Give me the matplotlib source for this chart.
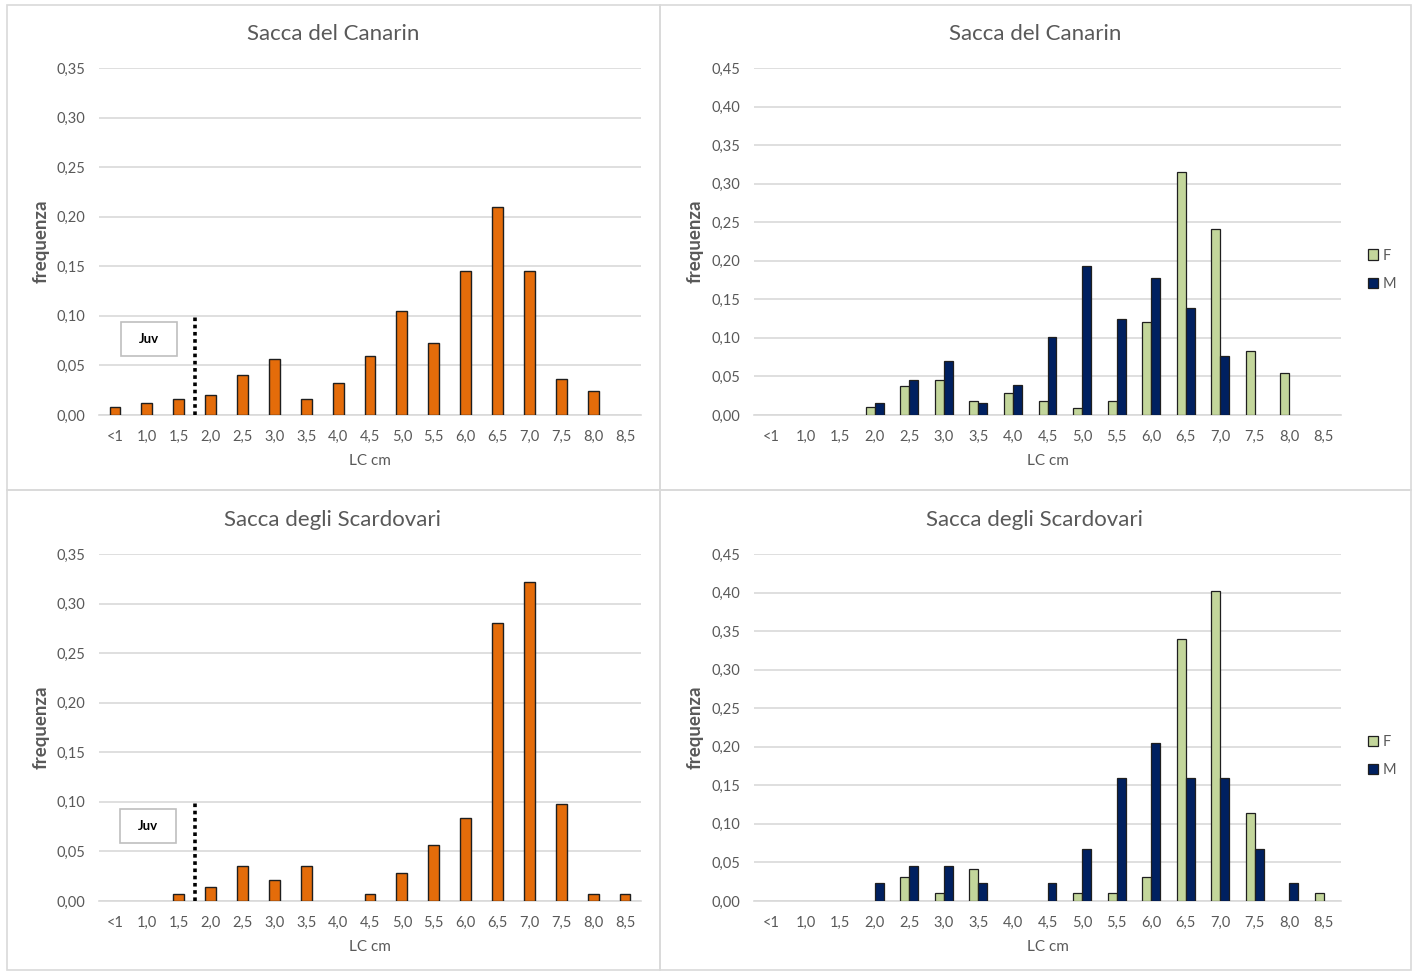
import matplotlib
matplotlib.use("Agg")
import matplotlib.pyplot as plt
from matplotlib.patches import Rectangle

plt.rcParams['font.family'] = ['Lato', 'DejaVu Sans']

# Size classes (carapace length, cm)
classes = ["<1", "1,0", "1,5", "2,0", "2,5", "3,0", "3,5", "4,0", "4,5",
           "5,0", "5,5", "6,0", "6,5", "7,0", "7,5", "8,0", "8,5"]

# Sacca del Canarin - all individuals
canarin_all = [0.008, 0.012, 0.016, 0.020, 0.040, 0.056, 0.016, 0.032, 0.060,
               0.105, 0.073, 0.145, 0.210, 0.145, 0.036, 0.024, 0.0]
# Sacca del Canarin - by sex
canarin_F = [0.0, 0.0, 0.0, 0.010, 0.037, 0.046, 0.018, 0.028, 0.018,
             0.009, 0.018, 0.120, 0.315, 0.241, 0.083, 0.055, 0.0]
canarin_M = [0.0, 0.0, 0.0, 0.015, 0.046, 0.070, 0.015, 0.039, 0.101,
             0.193, 0.124, 0.178, 0.139, 0.077, 0.0, 0.0, 0.0]

# Sacca degli Scardovari - all individuals
scardovari_all = [0.0, 0.0, 0.007, 0.014, 0.035, 0.021, 0.035, 0.0, 0.007,
                  0.028, 0.056, 0.084, 0.280, 0.322, 0.098, 0.007, 0.007]
# Sacca degli Scardovari - by sex
scardovari_F = [0.0, 0.0, 0.0, 0.0, 0.031, 0.010, 0.041, 0.0, 0.0,
                0.010, 0.010, 0.031, 0.340, 0.402, 0.114, 0.0, 0.010]
scardovari_M = [0.0, 0.0, 0.0, 0.023, 0.046, 0.046, 0.023, 0.0, 0.023,
                0.068, 0.160, 0.205, 0.160, 0.160, 0.068, 0.023, 0.0]

W, H = 1416, 972
ORANGE = "#E46C0A"
GREEN = "#C3D69B"
NAVY = "#002060"
EDGE = "#1f1f1f"
GRID = "#D9D9D9"
TXT = "#595959"

fig = plt.figure(figsize=(W / 100, H / 100), dpi=100)
fig.patch.set_facecolor("white")


def rect(x0, y0, x1, y1):
    return [x0 / W, 1 - y1 / H, (x1 - x0) / W, (y1 - y0) / H]


# Panel frames
for (x0, y0, x1, y1) in [(7, 5, 660, 490), (660, 5, 1411, 490),
                         (7, 490, 660, 970), (660, 490, 1411, 970)]:
    fig.add_artist(Rectangle((x0 / W, 1 - y1 / H), (x1 - x0) / W, (y1 - y0) / H,
                             transform=fig.transFigure, fill=False,
                             edgecolor=GRID, linewidth=1.2))


def nonzero(values, shift=0.0):
    xs = [i + shift for i, v in enumerate(values) if v > 0]
    hs = [v for v in values if v > 0]
    return xs, hs


def style_axes(ax, ymax):
    ax.set_xlim(-0.5, len(classes) - 0.5)
    ax.set_ylim(0, ymax)
    ticks = [i * 0.05 for i in range(int(round(ymax / 0.05)) + 1)]
    ax.set_yticks(ticks)
    ax.set_yticklabels([f"{t:.2f}".replace(".", ",") for t in ticks])
    ax.set_xticks(range(len(classes)))
    ax.set_xticklabels(classes)
    ax.tick_params(axis="both", length=0, labelsize=10.5, colors=TXT, pad=10)
    ax.tick_params(axis="x", pad=11)
    for s in ["top", "right", "left"]:
        ax.spines[s].set_visible(False)
    ax.spines["bottom"].set_color(GRID)
    ax.spines["bottom"].set_linewidth(1.2)
    ax.grid(axis="y", color=GRID, linewidth=1.2)
    ax.set_axisbelow(True)
    ax.set_xlabel("LC cm", fontsize=11, color=TXT, labelpad=7)


def labels(box, title, title_x, title_y, ylab_x):
    fig.text(title_x / W, 1 - title_y / H, title, ha="center", va="center",
             fontsize=16, color=TXT)
    fig.text(ylab_x / W, 1 - (box[1] + box[3]) / 2 / H, "frequenza", rotation=90,
             ha="center", va="center", fontsize=13.5, fontweight="bold", color=TXT)


def single_panel(box, values, title, title_x, title_y, ylab_x, juv_box, ymax):
    ax = fig.add_axes(rect(*box))
    xs, hs = nonzero(values)
    ax.bar(xs, hs, width=0.34, color=ORANGE, edgecolor=EDGE, linewidth=1.0, zorder=3)
    style_axes(ax, ymax)
    labels(box, title, title_x, title_y, ylab_x)
    # juvenile threshold
    ax.plot([2.5, 2.5], [0.0, 0.101], color="black", linewidth=2.6,
            linestyle=(0, (1, 1)), zorder=4)
    bx0, by0, bx1, by1 = juv_box
    fig.add_artist(Rectangle((bx0 / W, 1 - by1 / H), (bx1 - bx0) / W, (by1 - by0) / H,
                             transform=fig.transFigure, facecolor="white",
                             edgecolor="#BFBFBF", linewidth=1.2))
    fig.text((bx0 + bx1) / 2 / W, 1 - (by0 + by1) / 2 / H, "Juv", ha="center",
             va="center", fontsize=9.5, fontweight="bold", color="black")
    return ax


def sex_panel(box, f_vals, m_vals, title, title_x, title_y, ylab_x, leg_y, ymax):
    ax = fig.add_axes(rect(*box))
    w = 0.26
    xf, hf = nonzero(f_vals, -w / 2)
    xm, hm = nonzero(m_vals, w / 2)
    ax.bar(xf, hf, width=w, color=GREEN, edgecolor=EDGE,
           linewidth=0.9, zorder=3, label="F")
    ax.bar(xm, hm, width=w, color=NAVY, edgecolor=EDGE,
           linewidth=0.9, zorder=3, label="M")
    style_axes(ax, ymax)
    labels(box, title, title_x, title_y, ylab_x)
    leg = ax.legend(loc="center left", bbox_to_anchor=(1355 / W, 1 - leg_y / H),
                    bbox_transform=fig.transFigure, frameon=False, fontsize=10.5,
                    handlelength=0.7, handleheight=0.7, handletextpad=0.3,
                    labelspacing=1.0)
    for t in leg.get_texts():
        t.set_color(TXT)
    return ax


single_panel((99, 68, 641, 415), canarin_all, "Sacca del Canarin", 333, 34, 41,
             (121, 322, 177, 356), 0.35)
sex_panel((754, 68, 1341, 415), canarin_F, canarin_M, "Sacca del Canarin",
          1035, 34, 695, 270, 0.45)
single_panel((99, 554, 641, 901), scardovari_all, "Sacca degli Scardovari", 333, 520, 41,
             (120, 809, 176, 843), 0.35)
sex_panel((754, 554, 1341, 901), scardovari_F, scardovari_M, "Sacca degli Scardovari",
          1035, 520, 695, 756, 0.45)

fig.savefig("out.png", dpi=100, facecolor="white")
